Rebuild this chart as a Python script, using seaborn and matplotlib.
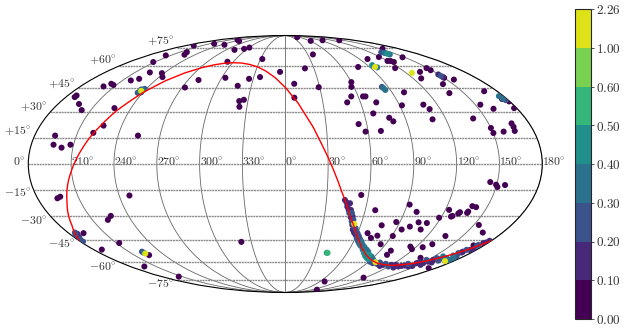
# Sky map of sources in Mollweide projection, coloured by binned value
import numpy as np
import pandas as pd
import matplotlib
matplotlib.use("Agg")
import matplotlib.pyplot as plt
from matplotlib.colors import BoundaryNorm, ListedColormap
from matplotlib.cm import ScalarMappable
from matplotlib.transforms import Affine2D
import seaborn as sns

# Single sources in the lowest bin (degrees, longitude wrapped to -180..180)
sparse_lon = [
    -165.3, -164.2, -158, -152.2, -138.6, -133.4, -105.8, -157.1, -163.4, -172.8, -172.8, -132.9,
    -159.7, -156, -152.6, -142.4, -136.7, -135.2, -122.2, -116.8, -152, -156.5, -134.3, -140.3,
    -164.5, -141.2, -114.4, -110.2, -129.6, -77.4, -64.9, -59.4, -27.9, -66.9, -5.3, -24, -33.9,
    -56.6, -80.3, -87.5, -42, -37, -33.5, -35.9,
    51, 62, 96.6, 140, 37, 20.6, 8, 7.4, 29.2, 60, 57.9, 54.3, 49.4, 64, 66, 72.6, 67, 78, 80.2,
    54, 58.1, 69.3, 91.8, 100.2, 99.8, 77.8, 154.5, 118.3, 119.8, 123.3, 125, 115.6, 147.4, 135.3,
    127.6, 148.6, 149, 150, 156.6, 141, 137.8, 109, 111.8, 110, 169, 154, 161.5, 140.7, 150, 150.2,
    158, 167, 167, 166.3, 178, 177, 176, 179.5,
    -165.6, -163, -112.6, -133.6, -138, -167.7, -147.5, -172.3, -135.3, -163.7, -155, -38.7,
    54.8, 67.5, 91.8, 99.1, 76.8, 87.1, 94.7, 99.9, 104.8, 110.2, 111.6, 118.6, 122.8, 127.2, 128,
    131.3, 132, 137.7, 137.9, 138.7, 141.9, 145, 149.6, 151, 156, 154, 163.5, 135.4, 131.8, 126.3,
    114.4, 118.4, 100.1, 100.7, 85.5, 90.9, 77.7, 73.4, 68.4, 138.6, 171.6, 117.5, 68, 107, 170.4,
]
sparse_lat = [
    16.2, 11, 9.3, 11, 17.8, 22, 16.2, 31.2, 34.9, 39.2, 40.2, 32.4,
    46, 47.7, 46.9, 49.9, 51, 55.4, 54.9, 52.2, 63, 68.2, 68.8, 71,
    76.8, 78.7, 77.7, 81.5, 83, 72.9, 73.8, 75, 65.3, 63.2, 55.8, 52.2, 51,
    51.7, 50.2, 45.3, 46.4, 36.7, 37.5, 33.2,
    86.5, 81.8, 82.5, 82.5, 69, 58.3, 47.7, 38.8, 45.5, 48.8, 45.7, 39.6, 35.9, 39.6, 39.6, 35.9, 29.2, 26.6, 24.5,
    22.9, 18.5, 18.9, 34.1, 42.2, 65.3, 59.3, 74, 66.9, 63.8, 63.8, 63, 58.5, 66.7, 55.8,
    51.3, 58.5, 57, 51.7, 50.5, 47.5, 41.7, 34.5, 31.8, 25.7, 42.9, 34.5, 32, 26.2, 20.6, 17.7,
    18.5, 23.3, 21.3, 18.9, 32.4, 38.3, 38, 36.5,
    -19.6, -18.7, -18, -30, -32.4, -40.6, -46.9, -51.3, -55.1, -63.4, -71.6, -46.2,
    -17.7, -26.6, -23.3, -27.6, -35.7, -33.7, -38.3, -36.5, -33.9, -38.3, -34.3, -31.1, -26.4, -30.4, -30,
    -28.6, -27.8, -28.2, -27.4, -24.2, -24.8, -10.3, -11.8, -13.1, -12, -35.5, -40.2, -42.4, -47.7, -49.7,
    -49.3, -51, -52, -54.9, -47.7, -42.4, -42.2, -43.7, -40.6, -57, -64.7, -72.5, -76, -85, -48.5,
]

# Dense band along the curve
band_lon = [
    43.5, 47.6, 46, 49.2, 48.5, 51.7, 52, 55, 55, 58.7, 58.9, 62.5, 64, 67, 68.5, 72.9, 76.5, 79.4,
    83.8, 87, 91.2, 96.6, 102, 110.6, 119.6, 127.7, 131.2, 136.7, 146.2, 144.6, 151.9, 154, 155.6,
    160.9, 166.1, 173, 173.1, 168.2, 170.2, 173.8, 174, 176, 178.5,
    45, 47.5, 50.5, 50.3, 52.9, 53.3, 56.8, 56.9, 60.4, 61.2, 64.5, 66.2, 69.9, 72.8, 76.6, 80.1, 83.2,
    86.7, 91.5, 96.2, 103.3, 108.7, 111.9, 120.1, 125, 133.6, 136.7, 142.8, 145, 152.9, 148.6, 159.6,
    155.9, 162.3, 159.1, 172.9, 167.5, 172.6, 170.3, 170.7, 175.7, 174.3, 177.8,
]
band_lat = [
    -20.6, -22.5, -24.5, -26.4, -28.3, -30.4, -33.4, -36.5, -38.4, -39.6, -41.6, -42.7, -46, -46, -48.8,
    -49.7, -53.7, -52.7, -57.2, -56.1, -59.8, -59.8, -61.4, -62.2, -63.4, -64.2, -63.4, -62.7, -63, -60.9,
    -60.9, -59.8, -58.5, -58, -57.2, -57.2, -58.5, -53.7, -52.7, -51.5, -48.8, -47, -45.5,
    -22.1, -26.4, -28.3, -30.8, -32.3, -35.5, -37.5, -40.2, -41, -43.7, -44.4, -47.5, -48.2, -51.4, -51.4,
    -55.7, -54.9, -58, -58, -60.9, -60.4, -63, -61.4, -62.2, -62.2, -63, -61.4, -63.4, -59.8, -62.2, -58.5,
    -60.4, -57.2, -59, -56, -59, -55.4, -56, -53.3, -51.5, -51, -48.2, -46.6,
]
band_val = [
    0.15, 0.15, 0.15, 0.15, 0.25, 0.15, 0.25, 0.25, 0.15, 0.25, 0.15, 0.25, 0.25, 0.35, 0.35, 0.35, 0.45,
    0.35, 0.45, 0.35, 0.25, 0.25, 0.15, 0.15, 0.25, 0.15, 0.15, 0.15, 0.15, 0.15, 0.15, 0.15, 0.15, 0.25,
    0.35, 0.35, 0.25, 0.25, 0.15, 0.15, 0.25, 0.15, 0.15,
    0.15, 0.15, 0.25, 0.15, 0.25, 0.15, 0.25, 0.15, 0.25, 0.25, 0.25, 0.35, 0.35, 0.35, 0.35, 0.45, 0.45,
    0.45, 0.35, 0.25, 0.25, 0.15, 0.25, 0.15, 0.15, 0.15, 0.25, 0.15, 0.15, 0.15, 0.25, 0.15,
    0.25, 0.25, 0.35, 0.35, 0.35, 0.25, 0.15, 0.25, 0.15, 0.25, 0.15,
]

# Compact groups
group_lon = [
    -124.2, -121.4, -123.8, -121.6, -123.4, -122, -122.7, 135.8, 138, 140, 139.2, 95.3, 97.6, 149.4, 150,
    149.6, 84.6, 85.7, 85.1, 176.2, 177, 178, -174.2, -173.5, -176, -175.5, -177.2, -177.7, -137.3, -137,
    40.2, 41,
]
group_lat = [
    41.9, 44.4, 44, 42.2, 42.5, 43.8, 43.1, 70.8, 70.2, 69, 69.6, 60.7, 59, 54, 52.3,
    53, 45.7, 43.7, 44.9, 39.8, 38.3, 37.3, -40.2, -41, -41.6, -43, -44.4, -46, -52.7, -53.5,
    -53.5, -53.5,
]
group_val = [
    0.25, 0.25, 0.25, 0.25, 0.35, 0.35, 0.55, 0.25, 0.35, 0.35, 0.45, 0.45, 0.35, 0.15, 0.15,
    0.25, 0.25, 0.35, 0.35, 0.35, 0.35, 0.25, 0.25, 0.15, 0.25, 0.15, 0.25, 0.25, 0.25, 0.35,
    0.45, 0.55,
]
peak_lon = [-122.7, 95.9, 125.8, -136.7, 54.6, 98, 171]
peak_lat = [43.1, 59.3, 55.1, -54, -34.9, -60.2, -59.4]
peak_val = [1.5, 1.5, 1.5, 1.5, 1.5, 1.5, 1.5]

# Great circle
curve_lon = list(range(-180, 190, 10))
curve_lat = [
    -45.5, -35.7, -21.8, -3.8, 15, 30.7, 42, 49.8, 55, 58.4, 60.7, 62, 62.5, 62.3, 61.3, 59.5, 56.5, 52.1,
    45.5, 35.7, 21.8, 3.8, -15, -30.7, -42, -49.8, -55, -58.4, -60.7, -62, -62.5, -62.3, -61.3, -59.5,
    -56.5, -52.1, -45.5,
]

# Colour bins
bounds = [0, 0.1, 0.2, 0.3, 0.4, 0.5, 0.6, 1.0, 2.26]
bin_colors = ["#440154", "#482878", "#3b528b", "#2c728e", "#21908c", "#35b779", "#7ad151", "#dde318"]
bound_labels = ["0.00", "0.10", "0.20", "0.30", "0.40", "0.50", "0.60", "1.00", "2.26"]

lon_ticks = [-150, -120, -90, -60, -30, 0, 30, 60, 90, 120, 150, 180]
lon_labels = ["210", "240", "270", "300", "330", "0", "30", "60", "90", "120", "150", "180"]
lat_ticks = [-75, -60, -45, -30, -15, 0, 15, 30, 45, 60, 75]
lat_labels = ["-75", "-60", "-45", "-30", "-15", "0", "+15", "+30", "+45", "+60", "+75"]
# pixels to move each latitude label up, to sit where the reference has them
lat_label_nudge = [8, 4, 3, 0, 0, 2, 5, 0, -3, -3, -5]

sns.set_style("white")
plt.rcParams.update({
    'font.family': 'serif',
    'mathtext.fontset': 'cm',
    'font.size': 8.5,
})

df = pd.concat([
    pd.DataFrame({'lon': sparse_lon, 'lat': sparse_lat, 'val': [0.05] * len(sparse_lon)}),
    pd.DataFrame({'lon': band_lon, 'lat': band_lat, 'val': band_val}),
    pd.DataFrame({'lon': group_lon, 'lat': group_lat, 'val': group_val}),
    pd.DataFrame({'lon': peak_lon, 'lat': peak_lat, 'val': peak_val}),
], ignore_index=True).sort_values('val')
df['lon_rad'] = np.radians(df['lon'])
df['lat_rad'] = np.radians(df['lat'])

cmap = ListedColormap(bin_colors)
norm = BoundaryNorm(bounds, cmap.N)

fig = plt.figure(figsize=(6.23, 3.31), dpi=100)
ax = fig.add_axes([28.3 / 623, 38.3 / 331, 514 / 623, 257.4 / 331], projection='mollweide')

sns.scatterplot(data=df, x='lon_rad', y='lat_rad', hue='val', palette=cmap, hue_norm=norm,
                s=19, linewidth=0, legend=False, ax=ax, zorder=3)
sns.lineplot(x=np.radians(curve_lon), y=np.radians(curve_lat), sort=False, estimator=None,
             color='red', linewidth=1, ax=ax, zorder=4)

ax.set_longitude_grid_ends(90)
ax.set_xticks(np.radians(lon_ticks), labels=[rf"${t}\!^\circ$" for t in lon_labels])
ax.set_yticks(np.radians(lat_ticks), labels=[rf"${t}\!^\circ$" for t in lat_labels])
for label in ax.get_xticklabels():
    label.set_ha('left')
    label.set_transform(label.get_transform() + Affine2D().translate(0, -8.5))
for label, nudge in zip(ax.get_yticklabels(), lat_label_nudge):
    label.set_transform(label.get_transform() + Affine2D().translate(5, nudge))
ax.xaxis.grid(True, color='#666666', linewidth=0.6, linestyle='-')
ax.yaxis.grid(True, color='#8a8a8a', linewidth=1.0, linestyle=(0, (1.5, 0.5)))
ax.set(xlabel='', ylabel='')
ax.tick_params(labelsize=8.5, colors='#333333')
for spine in ax.spines.values():
    spine.set_linewidth(0.8)
    spine.set_color('black')

cax = fig.add_axes([575 / 623, 12 / 331, 16 / 623, 310 / 331])
cbar = fig.colorbar(ScalarMappable(norm=norm, cmap=cmap), cax=cax, boundaries=bounds,
                    spacing='uniform', ticks=bounds)
cbar.ax.set_yticklabels([rf"${t}$" for t in bound_labels], fontsize=9.5)
cbar.ax.tick_params(length=2, width=0.6, pad=1.5, colors='#333333')

fig.savefig("out.png", dpi=100)
